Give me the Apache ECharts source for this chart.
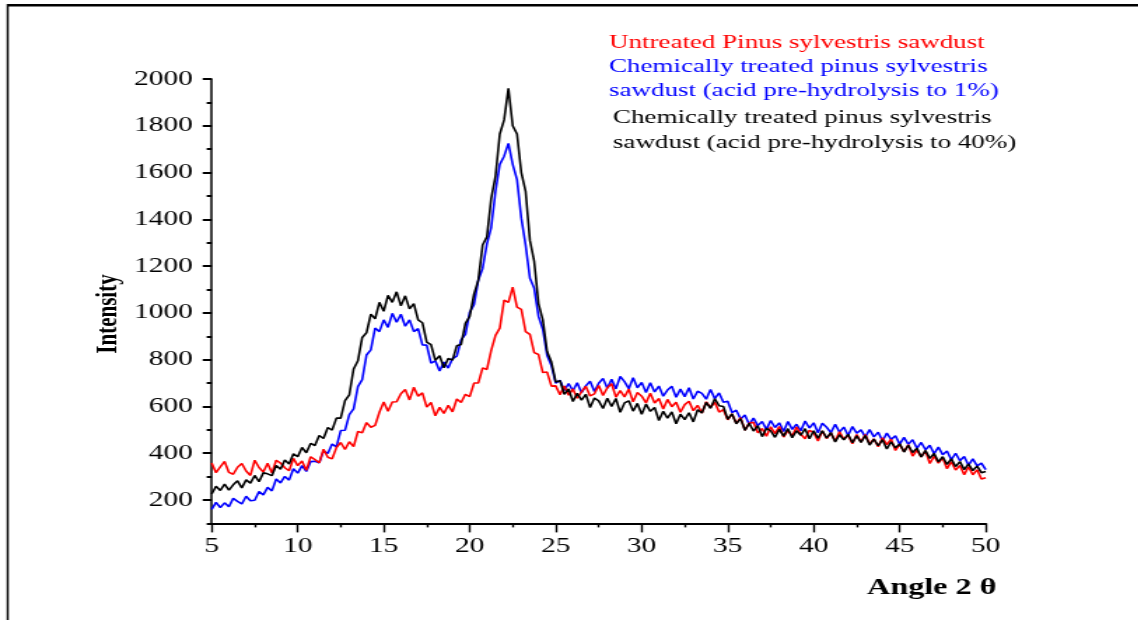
<!DOCTYPE html>
<html>
<head>
<meta charset="utf-8">
<script src="https://cdn.jsdelivr.net/npm/echarts@6/dist/echarts.min.js"></script>
<style>
  html, body { margin: 0; padding: 0; background: #fff; overflow: hidden; }
  #wrap { width: 1138px; height: 620px; overflow: hidden; position: relative; }
  #chart { width: 813px; height: 620px; transform: scaleX(1.4); transform-origin: 0 0; }
</style>
</head>
<body>
<div id="wrap"><div id="chart"></div></div>
<script>
// 2θ scan angles (degrees)
const angles = [
  5,5.25,5.5,5.75, 6,6.25,6.5,6.75, 7,7.25,7.5,7.75, 8,8.25,8.5,8.75, 9,9.25,9.5,9.75,
  10,10.25,10.5,10.75, 11,11.25,11.5,11.75, 12,12.25,12.5,12.75, 13,13.25,13.5,13.75, 14,14.25,14.5,14.75,
  15,15.25,15.5,15.75, 16,16.25,16.5,16.75, 17,17.25,17.5,17.75, 18,18.25,18.5,18.75, 19,19.25,19.5,19.75,
  20,20.25,20.5,20.75, 21,21.25,21.5,21.75, 22,22.25,22.5,22.75, 23,23.25,23.5,23.75, 24,24.25,24.5,24.75,
  25,25.25,25.5,25.75, 26,26.25,26.5,26.75, 27,27.25,27.5,27.75, 28,28.25,28.5,28.75, 29,29.25,29.5,29.75,
  30,30.25,30.5,30.75, 31,31.25,31.5,31.75, 32,32.25,32.5,32.75, 33,33.25,33.5,33.75, 34,34.25,34.5,34.75,
  35,35.25,35.5,35.75, 36,36.25,36.5,36.75, 37,37.25,37.5,37.75, 38,38.25,38.5,38.75, 39,39.25,39.5,39.75,
  40,40.25,40.5,40.75, 41,41.25,41.5,41.75, 42,42.25,42.5,42.75, 43,43.25,43.5,43.75, 44,44.25,44.5,44.75,
  45,45.25,45.5,45.75, 46,46.25,46.5,46.75, 47,47.25,47.5,47.75, 48,48.25,48.5,48.75, 49,49.25,49.5,49.75,
  50
];

// Untreated Pinus sylvestris sawdust (red)
const untreated = [
  358,317,342,365, 318,310,340,356, 324,305,370,339, 320,357,315,370, 358,338,325,378,
  347,367,327,385, 373,359,417,383, 376,424,446,416, 449,428,493,488, 531,511,519,575,
  619,580,619,620, 654,673,628,682, 644,658,597,617, 560,596,570,605, 577,632,617,652,
  642,700,700,765, 758,840,904,935, 1055,1045,1110,1025, 1015,920,908,830, 822,745,747,687,
  688,650,687,648, 675,635,662,686, 645,654,690,647, 680,697,640,668, 641,674,620,660,
  644,615,656,615, 634,589,630,599, 618,575,608,622, 582,605,572,620, 596,618,576,586,
  543,568,528,552, 499,529,532,487, 506,473,513,484, 514,469,498,473, 512,481,462,498,
  488,452,495,463, 486,452,492,460, 477,441,480,448, 480,440,461,428, 466,437,460,412,
  438,407,436,388, 413,384,410,356, 387,358,380,334, 364,328,348,308, 342,308,329,290,
  295
];

// Chemically treated, acid pre-hydrolysis 1% (blue)
const treated1 = [
  160,190,168,188, 171,207,194,183, 216,197,199,236, 222,254,239,290, 273,301,285,334,
  315,347,322,364, 366,359,410,399, 439,427,497,498, 565,590,685,715, 820,842,935,920,
  970,938,998,960, 994,943,970,920, 933,863,862,785, 795,752,790,764, 805,815,885,908,
  1003,1035,1140,1190, 1295,1365,1520,1635, 1670,1725,1635,1570, 1405,1290,1148,1105, 985,930,818,775,
  700,712,668,698, 667,701,659,688, 708,664,699,720, 678,716,675,728, 706,676,723,680,
  703,660,701,662, 687,644,670,686, 639,674,642,680, 632,665,656,631, 672,633,658,618,
  622,574,584,546, 563,523,550,518, 536,502,540,510, 530,493,536,502, 524,496,538,508,
  530,488,528,511, 488,524,490,512, 476,514,486,500, 470,501,470,490, 452,486,459,475,
  439,468,438,458, 421,446,415,434, 398,426,394,410, 372,400,368,386, 349,376,346,358,
  330
];

// Chemically treated, acid pre-hydrolysis 40% (black)
const treated40 = [
  226,259,241,268, 242,265,282,252, 286,272,305,278, 316,312,304,348, 332,371,354,398,
  385,425,402,442, 433,476,463,510, 499,550,550,625, 650,760,795,895, 915,995,975,1045,
  1007,1075,1045,1090, 1030,1073,1017,1040, 970,958,875,864, 797,817,765,805, 798,860,865,955,
  985,1080,1140,1290, 1325,1490,1585,1765, 1825,1960,1800,1765, 1600,1520,1310,1220, 1040,970,835,790,
  705,710,652,675, 621,656,627,652, 595,636,624,591, 635,600,634,575, 615,624,580,613,
  567,610,579,596, 540,579,550,577, 526,567,544,573, 534,586,572,617, 592,633,603,600,
  545,568,526,548, 498,528,495,518, 471,506,496,468, 502,473,505,466, 496,477,505,462,
  496,464,496,465, 488,448,479,457, 481,445,474,446, 476,435,460,432, 458,418,449,423,
  440,405,434,403, 422,384,412,378, 399,363,385,352, 376,343,364,330, 354,326,345,317,
  322
];

const seriesNames = [
  'Untreated Pinus sylvestris sawdust',
  'Chemically treated pinus sylvestris sawdust (acid pre-hydrolysis to 1%)',
  'Chemically treated pinus sylvestris sawdust (acid pre-hydrolysis to 40%)'
];
const yMajorTicks = [200,400,600,800,1000,1200,1400,1600,1800,2000];
const yMinorTicks = [100,300,500,700,900,1100,1300,1500,1700,1900];
const xTitle = 'Angle 2 θ';
const yTitle = 'Intensity';

const SX = 1.4;           // horizontal stretch of the original figure
const FONT = '"Liberation Serif", "Times New Roman", serif';
const pairs = arr => angles.map((a, i) => [a, arr[i]]);

const chart = echarts.init(document.getElementById('chart'), null, { renderer: 'canvas' });
chart.setOption({
  animation: false,
  backgroundColor: '#fff',
  grid: { left: 211.7 / SX, right: 813 - 985.7 / SX, top: 79, bottom: 620 - 523.4 },
  xAxis: {
    type: 'value', min: 5, max: 50, interval: 5,
    axisLine: { show: true, lineStyle: { color: '#000', width: 2 } },
    axisTick: { show: true, inside: false, length: 9, lineStyle: { color: '#000', width: 1.4 } },
    minorTick: { show: true, splitNumber: 2, length: 4, lineStyle: { color: '#000', width: 1.4 } },
    axisLabel: { color: '#000', fontFamily: FONT, fontSize: 21, margin: 13, formatter: v => String(v) },
    splitLine: { show: false }
  },
  yAxis: [{
    type: 'value', min: 100, max: 2000, interval: 100,
    axisLine: { show: true, lineStyle: { color: '#000', width: 1.5 } },
    axisTick: { show: true, length: 9 / SX, customValues: yMajorTicks, lineStyle: { color: '#000', width: 2 } },
    axisLabel: { color: '#000', fontFamily: FONT, fontSize: 21, margin: 13.5, customValues: yMajorTicks,
      formatter: v => String(v) },
    splitLine: { show: false }
  }, {
    type: 'value', min: 100, max: 2000, interval: 100, position: 'left',
    axisLine: { show: false },
    axisTick: { show: true, length: 5 / SX, customValues: yMinorTicks, lineStyle: { color: '#000', width: 2 } },
    axisLabel: { show: false },
    splitLine: { show: false }
  }],
  series: [
    { name: seriesNames[1], type: 'line', data: pairs(treated1), showSymbol: false, symbol: 'none',
      lineStyle: { color: '#0000ff', width: 1.6 }, z: 2 },
    { name: seriesNames[0], type: 'line', data: pairs(untreated), showSymbol: false, symbol: 'none',
      lineStyle: { color: '#ff0000', width: 1.6 }, z: 3 },
    { name: seriesNames[2], type: 'line', data: pairs(treated40), showSymbol: false, symbol: 'none',
      lineStyle: { color: '#000000', width: 1.6 }, z: 4 }
  ],
  graphic: [
    { type: 'line', shape: { x1: 5.5, y1: 4, x2: 5.5, y2: 620 }, style: { stroke: '#000', lineWidth: 1.5 } },
    { type: 'line', shape: { x1: 5, y1: 5.2, x2: 813, y2: 5.2 }, style: { stroke: '#000', lineWidth: 2.6 } },
    { type: 'text', x: 609 / SX, y: 52, style: { text: 'Untreated Pinus sylvestris sawdust', fill: '#ff0000',
      font: '19.3px ' + FONT, verticalAlign: 'bottom' } },
    { type: 'text', x: 609 / SX, y: 76, style: { text: 'Chemically treated pinus sylvestris', fill: '#0000ff',
      font: '19.3px ' + FONT, verticalAlign: 'bottom' } },
    { type: 'text', x: 609 / SX, y: 100, style: { text: 'sawdust (acid pre-hydrolysis to 1%)', fill: '#0000ff',
      font: '19.3px ' + FONT, verticalAlign: 'bottom' } },
    { type: 'text', x: 613 / SX, y: 127, style: { text: 'Chemically treated pinus sylvestris', fill: '#000',
      font: '19.3px ' + FONT, verticalAlign: 'bottom' } },
    { type: 'text', x: 613 / SX, y: 152, style: { text: 'sawdust (acid pre-hydrolysis to 40%)', fill: '#000',
      font: '19.3px ' + FONT, verticalAlign: 'bottom' } },
    { type: 'text', x: 108 / SX, y: 314, rotation: Math.PI / 2, style: { text: yTitle, fill: '#000',
      font: 'bold 21px ' + FONT, align: 'center', verticalAlign: 'middle' } },
    { type: 'text', x: 867 / SX, y: 600, style: { text: xTitle, fill: '#000',
      font: 'bold 23px ' + FONT, verticalAlign: 'bottom' } }
  ]
});
</script>
</body>
</html>
